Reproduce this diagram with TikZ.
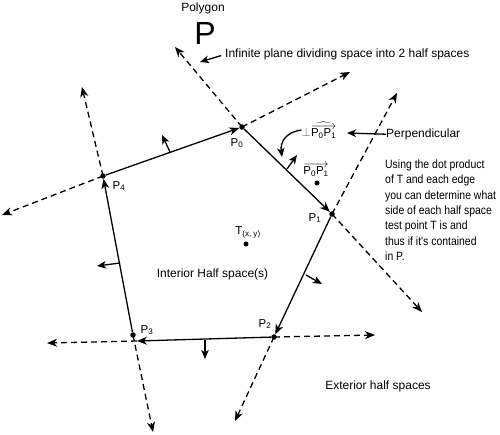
\documentclass[tikz,border=0pt]{standalone}
\usepackage{fontspec}
\setmainfont{Liberation Sans}
\newfontfamily\narrowfont[FakeStretch=0.87]{Liberation Sans}
\usetikzlibrary{arrows.meta}
\begin{document}
\begin{tikzpicture}[x=1pt,y=-1pt,
  vdot/.style={circle,fill,inner sep=0pt,minimum size=5.5pt},
  edgearrow/.style={line width=1.3pt,-{Stealth[length=10pt,width=8pt,inset=3pt]}},
  plane/.style={line width=1.3pt,dash pattern=on 6pt off 4pt,-{Stealth[length=10pt,width=8pt,inset=3pt]}},
  normalarrow/.style={line width=1.3pt,-{Stealth[length=9pt,width=7.5pt,inset=2.5pt]}},
  lbl/.style={font=\fontsize{12}{14}\selectfont,inner sep=0pt},
  vlbl/.style={font=\fontsize{11.5}{13}\selectfont,inner sep=0pt}
]
\useasboundingbox (0,0) rectangle (500,434);

% vertices
\node[vdot] (P0) at (242,127) {};
\node[vdot] (P1) at (332,214) {};
\node[vdot] (P2) at (274,337) {};
\node[vdot] (P3) at (133,335) {};
\node[vdot] (P4) at (103,176) {};
\coordinate (P3low) at (137,341);

% vertex labels
\node[vlbl] (L0) at (237,143) {P\textsubscript{0}};
\node[vlbl] (L1) at (315,218) {P\textsubscript{1}};
\node[vlbl] (L2) at (265,324) {P\textsubscript{2}};
\node[vlbl] (L3) at (147,330) {P\textsubscript{3}};
\node[vlbl] (L4) at (119,186) {P\textsubscript{4}};

% edges
\draw[edgearrow] (P4) -- (P0);
\draw[edgearrow] (P0) -- (P1);
\draw[edgearrow] (P1) -- (P2);
\draw[edgearrow] (P2) -- (P3low);
\draw[edgearrow] (P3) -- (P4);

% infinite planes (dashed)
\coordinate (d0a) at (175,47);
\coordinate (d0b) at (350,72);
\coordinate (d1a) at (397,93);
\coordinate (d1b) at (422,312);
\coordinate (d2a) at (375,335);
\coordinate (d2b) at (235,421);
\coordinate (d3a) at (47,343);
\coordinate (d3b) at (153,432);
\coordinate (d4a) at (82,87);
\coordinate (d4b) at (2,215);
\draw[plane] (P0.center) -- (d0a);
\draw[plane] (P0.center) -- (d0b);
\draw[plane] (P1.center) -- (d1a);
\draw[plane] (P1.center) -- (d1b);
\draw[plane] (P2.center) -- (d2a);
\draw[plane] (P2.center) -- (d2b);
\draw[plane] (P3low) -- (d3a);
\draw[plane] (P3.center) -- (d3b);
\draw[plane] (P4.center) -- (d4a);
\draw[plane] (P4.center) -- (d4b);

% outward normals
\coordinate (n0s) at (170,152); \coordinate (n0e) at (162,135);
\coordinate (n1s) at (287,169); \coordinate (n1e) at (297,155);
\coordinate (n2s) at (306,275); \coordinate (n2e) at (322,284);
\coordinate (n3s) at (205,340); \coordinate (n3e) at (205,359);
\coordinate (n4s) at (120,263); \coordinate (n4e) at (97,266);
\draw[normalarrow] (n0s) -- (n0e);
\draw[normalarrow] (n1s) -- (n1e);
\draw[normalarrow] (n2s) -- (n2e);
\draw[normalarrow] (n3s) -- (n3e);
\draw[normalarrow] (n4s) -- (n4e);

% test point T
\node[vdot,minimum size=5pt] (T) at (246,244) {};
\node[vlbl] (TL) at (248,232) {T\textsubscript{(x, y)}};

% vector label and point
\node[vdot,minimum size=5pt] (V) at (317,183) {};
\node[vlbl] (VL) at (316,170) {$\overrightarrow{\hbox{P\textsubscript{0}P\textsubscript{1}}}$};

% perpendicular label
\node[vlbl] (PL) at (319,130) {{\color{black!65}$\perp$}$\widehat{\overrightarrow{\hbox{P\textsubscript{0}P\textsubscript{1}}}}$};
\draw[normalarrow] (PL.west) .. controls (286,132) and (280,142) .. (282,157);

% texts
\node[lbl,anchor=base] (polytxt) at (203,11.5) {Polygon};
\node[inner sep=0pt,font=\fontsize{32}{34}\selectfont] (bigP) at (205,33.5) {P};
\node[lbl,anchor=base west] (inftxt) at (225,57.5) {Infinite plane dividing space into 2 half spaces};
\coordinate (inftip) at (200,62);
\draw[normalarrow,shorten <=4pt] (inftxt.west) -- (inftip);

\node[lbl,anchor=base west] (perptxt) at (386,137.3) {Perpendicular};
\coordinate (perptip) at (347,133);
\draw[normalarrow] (perptxt.west) -- (perptip);

\node[inner sep=0pt,anchor=north west,align=left,font=\narrowfont\fontsize{12}{15.3}\selectfont] (note) at (385,159.6)
  {Using the dot product\\of T and each edge\\you can determine what\\side of each half space\\test point T is and\\thus if it's contained\\in P.};

\node[lbl,anchor=base] (interior) at (212.5,277) {Interior Half space(s)};
\node[lbl,anchor=base] (exterior) at (378,389) {Exterior half spaces};
\end{tikzpicture}
\end{document}
